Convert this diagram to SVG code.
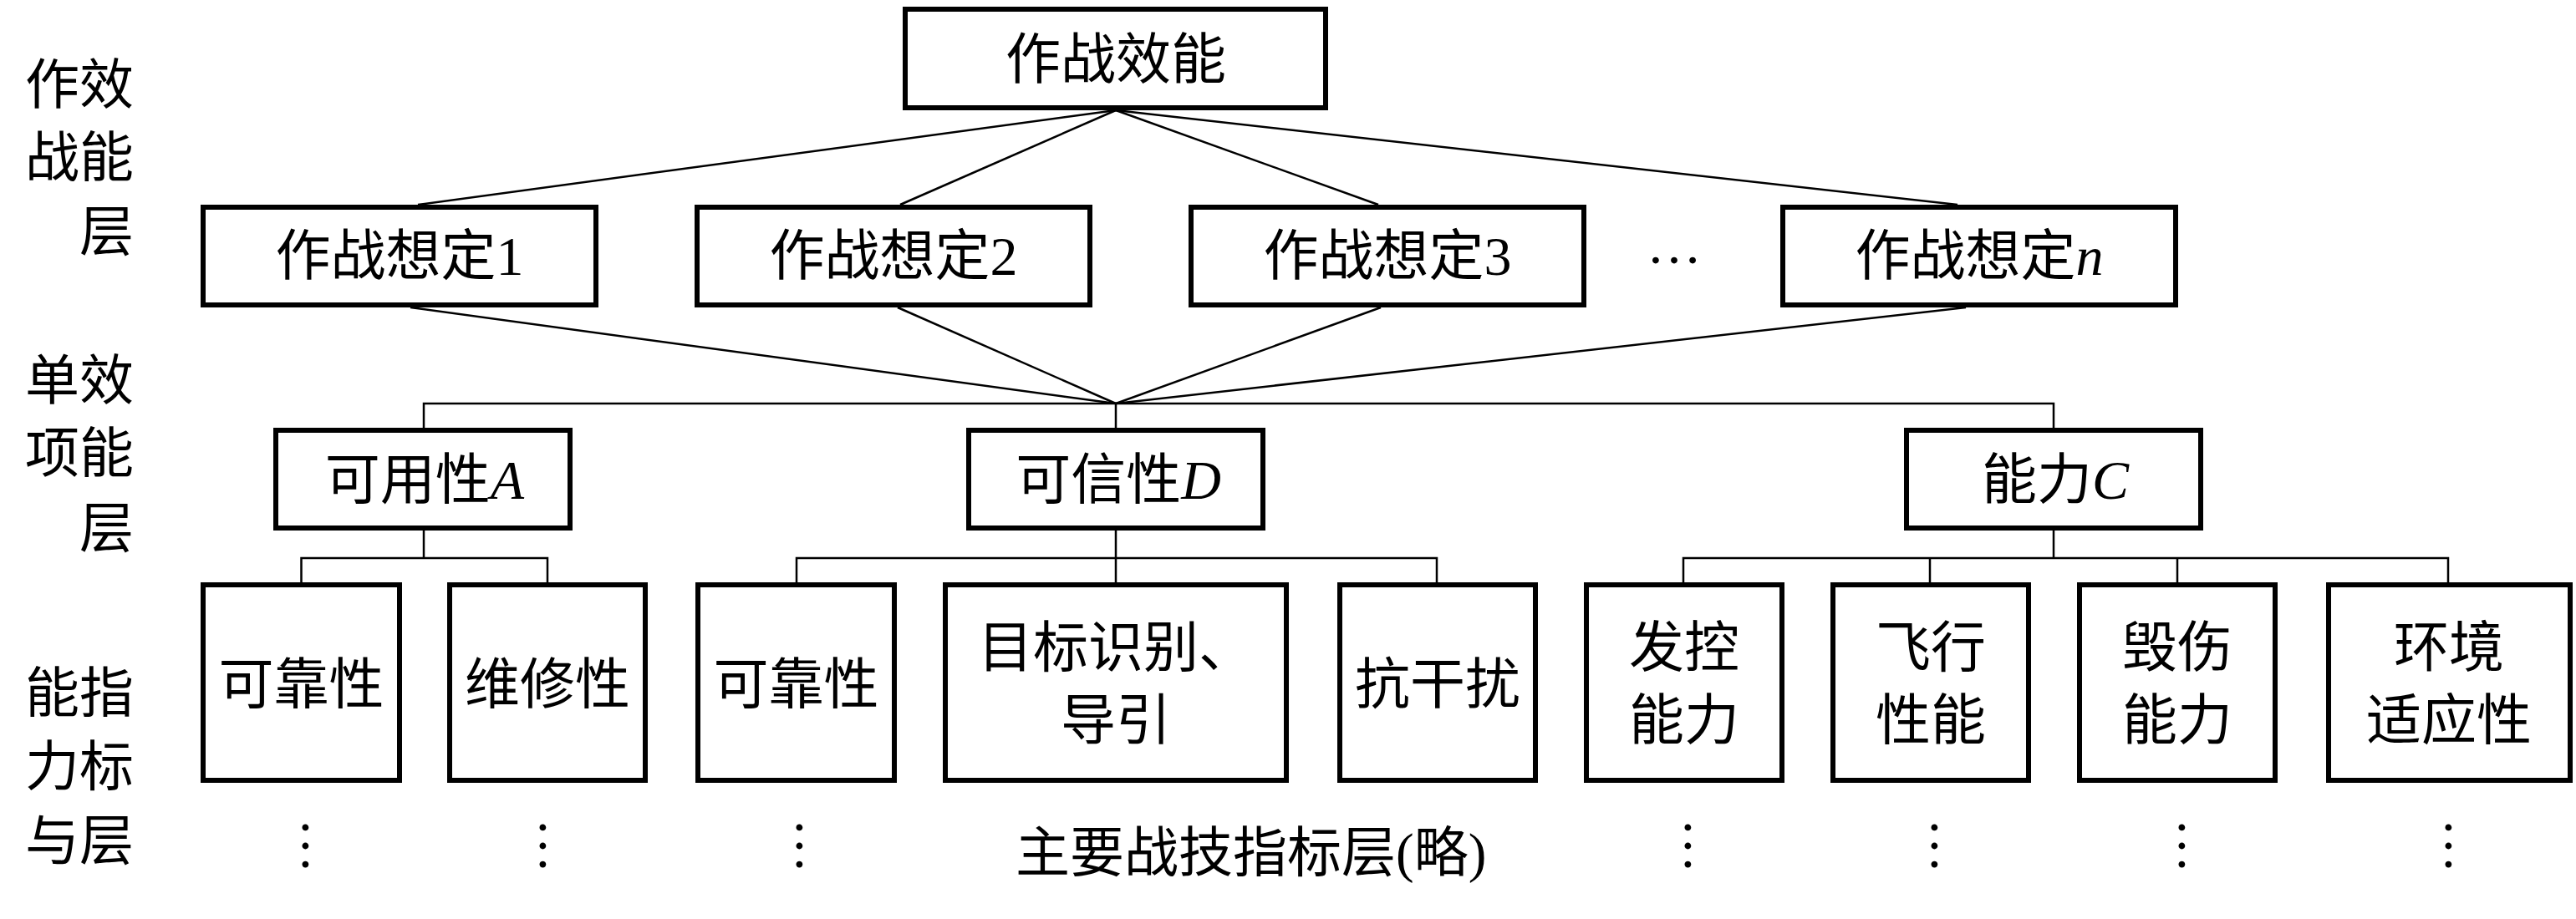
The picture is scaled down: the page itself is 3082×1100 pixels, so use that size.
<svg xmlns="http://www.w3.org/2000/svg" width="3082" height="1100" viewBox="0 0 3082 1100">
<style>
.box{fill:#fff;stroke:#000;stroke-width:6}
.t{font-family:"Liberation Serif","Noto Sans CJK SC",serif;font-size:66px;fill:#000;text-anchor:middle}
.lab{font-family:"Liberation Serif","Noto Sans CJK SC",serif;font-size:65px;fill:#000}
.i{font-style:italic}
.c{fill:none;stroke:#000;stroke-width:2.5}
</style>
<rect width="3082" height="1100" fill="#fff"/>
<g id="layer-labels">
<text class="lab" x="30" y="123.7">作效</text>
<text class="lab" x="30" y="211.4">战能</text>
<text class="lab" x="95" y="299.7">层</text>
<text class="lab" x="30" y="477.7">单效</text>
<text class="lab" x="30" y="565.3">项能</text>
<text class="lab" x="95" y="654.7">层</text>
<text class="lab" x="30" y="851.7">能指</text>
<text class="lab" x="30" y="940.3">力标</text>
<text class="lab" x="30" y="1028.7">与层</text>
</g>
<g id="connectors" class="c">
<line x1="1335" y1="132" x2="500" y2="245"/>
<line x1="1335" y1="132" x2="1077" y2="245"/>
<line x1="1335" y1="132" x2="1649" y2="245"/>
<line x1="1335" y1="132" x2="2342" y2="245"/>
<line x1="491" y1="368" x2="1335" y2="483"/>
<line x1="1074" y1="368" x2="1335" y2="483"/>
<line x1="1652" y1="368" x2="1335" y2="483"/>
<line x1="2352" y1="368" x2="1335" y2="483"/>
<path d="M507 512V483H2457V512M1335 483V512"/>
<path d="M507 635V668M360.5 697V668H655V697"/>
<path d="M1335 635V697M953 697V668H1719V697"/>
<path d="M2457 635V668M2014 697V668H2929V697M2309 668V697M2605 668V697"/>
</g>
<g id="n-effect"><rect class="box" x="1083" y="11" width="503" height="118"/><text class="t" x="1335" y="94">作战效能</text></g>
<g id="n-s1"><rect class="box" x="243" y="248" width="470" height="117"/><text class="t" x="478" y="329">作战想定1</text></g>
<g id="n-s2"><rect class="box" x="834" y="248" width="470" height="117"/><text class="t" x="1069" y="329">作战想定2</text></g>
<g id="n-s3"><rect class="box" x="1425" y="248" width="470" height="117"/><text class="t" x="1660" y="329">作战想定3</text></g>
<g id="n-sdots"><text class="t" x="2003" y="315">…</text></g>
<g id="n-sn"><rect class="box" x="2133" y="248" width="470" height="117"/><text class="t" x="2368" y="329">作战想定<tspan class="i">n</tspan></text></g>
<g id="n-A"><rect class="box" x="330" y="515" width="352" height="117"/><text class="t" x="508" y="597">可用性<tspan class="i">A</tspan></text></g>
<g id="n-D"><rect class="box" x="1159" y="515" width="352" height="117"/><text class="t" x="1338" y="597">可信性<tspan class="i">D</tspan></text></g>
<g id="n-C"><rect class="box" x="2281" y="515" width="352" height="117"/><text class="t" x="2459" y="597">能力<tspan class="i">C</tspan></text></g>
<g id="n-b1"><rect class="box" x="243" y="700" width="235" height="234"/><text class="t" x="360.5" y="842">可靠性</text></g>
<g id="n-b2"><rect class="box" x="538" y="700" width="234" height="234"/><text class="t" x="655" y="842">维修性</text></g>
<g id="n-b3"><rect class="box" x="835" y="700" width="235" height="234"/><text class="t" x="952.5" y="842">可靠性</text></g>
<g id="n-b4"><rect class="box" x="1131" y="700" width="408" height="234"/><text class="t" x="1335" y="798">目标识别、</text><text class="t" x="1335" y="885">导引</text></g>
<g id="n-b5"><rect class="box" x="1603" y="700" width="234" height="234"/><text class="t" x="1720" y="842">抗干扰</text></g>
<g id="n-b6"><rect class="box" x="1898" y="700" width="234" height="234"/><text class="t" x="2015" y="798">发控</text><text class="t" x="2015" y="885">能力</text></g>
<g id="n-b7"><rect class="box" x="2193" y="700" width="234" height="234"/><text class="t" x="2310" y="798">飞行</text><text class="t" x="2310" y="885">性能</text></g>
<g id="n-b8"><rect class="box" x="2488" y="700" width="234" height="234"/><text class="t" x="2605" y="798">毁伤</text><text class="t" x="2605" y="885">能力</text></g>
<g id="n-b9"><rect class="box" x="2786" y="700" width="289" height="234"/><text class="t" x="2930" y="798">环境</text><text class="t" x="2930" y="885">适应性</text></g>
<g id="bottom-layer">
<text class="t" transform="translate(365 1012.5) rotate(90)" x="0" y="3.3">…</text>
<text class="t" transform="translate(649 1012.5) rotate(90)" x="0" y="3.3">…</text>
<text class="t" transform="translate(956 1012.5) rotate(90)" x="0" y="3.3">…</text>
<text class="lab" x="1215" y="1043">主要战技指标层(略)</text>
<text class="t" transform="translate(2019 1012.5) rotate(90)" x="0" y="3.3">…</text>
<text class="t" transform="translate(2314 1012.5) rotate(90)" x="0" y="3.3">…</text>
<text class="t" transform="translate(2610 1012.5) rotate(90)" x="0" y="3.3">…</text>
<text class="t" transform="translate(2929 1012.5) rotate(90)" x="0" y="3.3">…</text>
</g>
</svg>
